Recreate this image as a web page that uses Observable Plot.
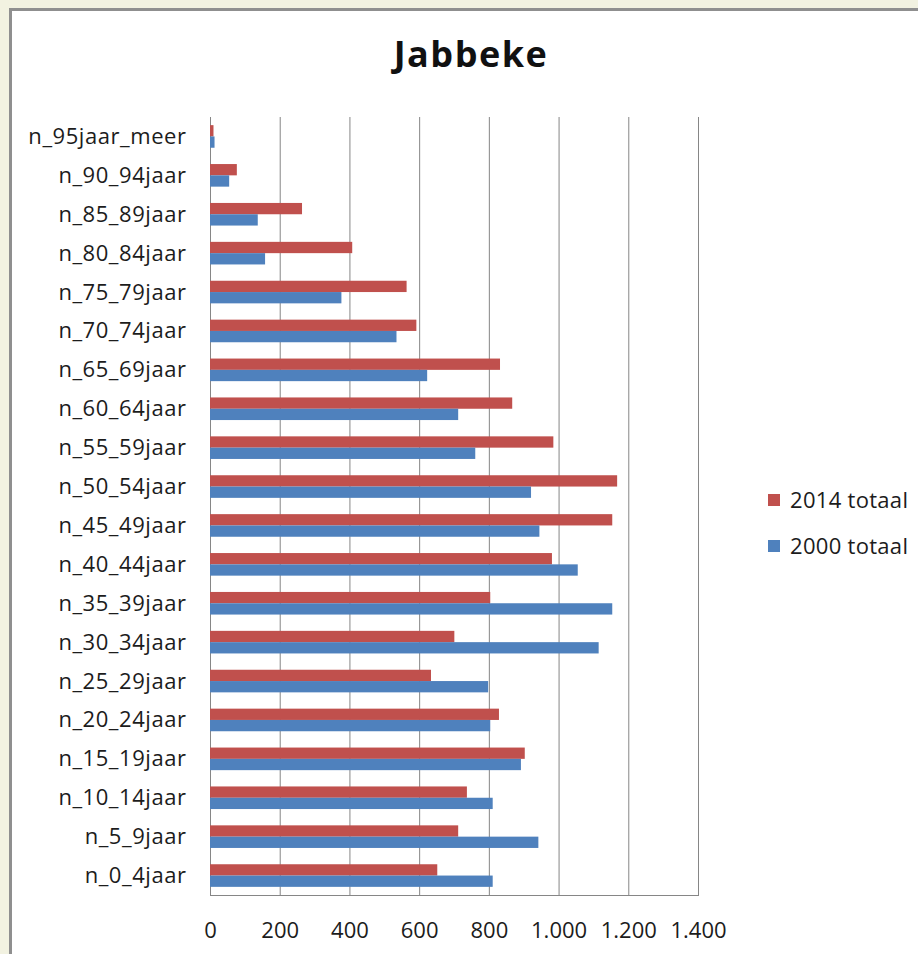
<!DOCTYPE html>
<html><head><meta charset="utf-8">
<script src="https://cdn.jsdelivr.net/npm/d3@7"></script>
<script src="https://cdn.jsdelivr.net/npm/@observablehq/plot@0.6"></script>
<style>
html,body{margin:0;padding:0;width:918px;height:954px;overflow:hidden;background:#f2f2e1;font-family:"Open Sans",sans-serif;}
#frame{position:absolute;left:9px;top:8px;width:1000px;height:1000px;background:#fff;border:3px solid #8f8f8f;box-sizing:border-box;}
#title{position:absolute;left:0;top:36px;width:942px;text-align:center;font-weight:bold;font-size:36px;line-height:36px;letter-spacing:1.5px;color:#111;}
#chart{position:absolute;left:0;top:0;}
.leg{position:absolute;left:768px;font-size:22px;line-height:22px;color:#1c1c1c;white-space:nowrap;letter-spacing:0.3px;}
.leg .sw{position:absolute;left:0;top:6px;width:12px;height:12px;}
.leg .tx{position:absolute;left:22px;top:0;}
#chart svg g[aria-label="y-axis tick label"] text{letter-spacing:0.55px;}
</style></head>
<body>
<div id="frame"></div>
<div id="title">Jabbeke</div>
<div id="chart"></div>
<div id="legend"></div>
<script>
const categories = ["n_95jaar_meer","n_90_94jaar","n_85_89jaar","n_80_84jaar","n_75_79jaar","n_70_74jaar","n_65_69jaar","n_60_64jaar","n_55_59jaar","n_50_54jaar","n_45_49jaar","n_40_44jaar","n_35_39jaar","n_30_34jaar","n_25_29jaar","n_20_24jaar","n_15_19jaar","n_10_14jaar","n_5_9jaar","n_0_4jaar"];
const values2014 = [10,77,264,408,564,592,832,867,985,1168,1154,981,804,701,634,829,903,737,712,652];
const values2000 = [13,55,137,158,377,535,623,712,761,921,945,1055,1154,1115,798,804,892,811,942,811];
const seriesNames = ["2014 totaal","2000 totaal"];
const seriesColors = ["#c0504d","#4f81bd"];
const xTicks = [0,200,400,600,800,1000,1200,1400];

const rows2014 = categories.map((c,i)=>({cat:c, value:values2014[i]}));
const rows2000 = categories.map((c,i)=>({cat:c, value:values2000[i]}));
const fmt = d => d3.format(",")(d).replace(/,/g,".");

const W=918,H=954,mT=117,mB=59;
const band=(H-mT-mB)/categories.length;
const barH=11.3;
const outer=(band-2*barH)/2;

const plot = Plot.plot({
  width:W, height:H, marginLeft:210, marginRight:220, marginTop:mT, marginBottom:mB,
  style:{background:"transparent", fontFamily:"Open Sans", fontSize:"22px", color:"#1c1c1c", overflow:"visible"},
  x:{domain:[0,1400], ticks:xTicks, tickFormat:fmt, label:null},
  y:{domain:categories, padding:0, round:false, label:null},
  marks:[
    Plot.gridX(xTicks,{stroke:"#868686", strokeOpacity:1, strokeWidth:1}),
    Plot.frame({anchor:"bottom", stroke:"#868686"}),
    Plot.barX(rows2014,{x:"value", y:"cat", fill:seriesColors[0], insetTop:outer, insetBottom:outer+barH}),
    Plot.barX(rows2000,{x:"value", y:"cat", fill:seriesColors[1], insetTop:outer+barH, insetBottom:outer}),
    Plot.axisX(xTicks,{tickSize:0, tickPadding:27, tickFormat:fmt, fontSize:22, label:null}),
    Plot.axisY({tickSize:0, tickPadding:24, fontSize:22, label:null})
  ]
});
document.getElementById("chart").appendChild(plot);

const legend=document.getElementById("legend");
const legTops=[488,534];
seriesNames.forEach((n,i)=>{
  const d=document.createElement("div");
  d.className="leg"; d.style.top=legTops[i]+"px";
  d.innerHTML=`<span class="sw" style="background:${seriesColors[i]}"></span><span class="tx">${n}</span>`;
  legend.appendChild(d);
});
</script>
</body></html>
